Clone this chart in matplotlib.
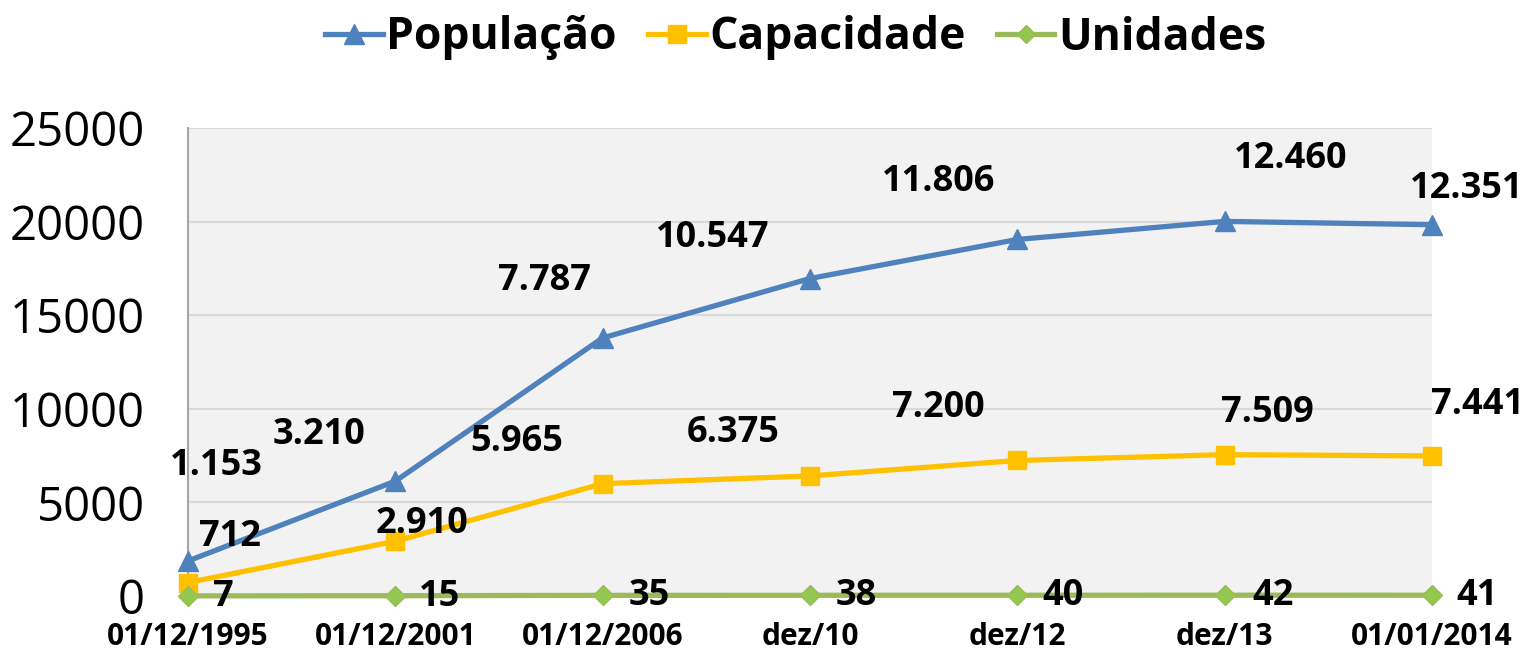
import numpy as np
import matplotlib
matplotlib.use("Agg")
import matplotlib.pyplot as plt

datas = ['01/12/1995', '01/12/2001', '01/12/2006', 'dez/10', 'dez/12', 'dez/13', '01/01/2014']
populacao = [1153, 3210, 7787, 10547, 11806, 12460, 12351]
capacidade = [712, 2910, 5965, 6375, 7200, 7509, 7441]
unidades = [7, 15, 35, 38, 40, 42, 41]

pop_lbl = ['1.153', '3.210', '7.787', '10.547', '11.806', '12.460', '12.351']
cap_lbl = ['712', '2.910', '5.965', '6.375', '7.200', '7.509', '7.441']
uni_lbl = [str(v) for v in unidades]

plt.rcParams['font.family'] = ['Open Sans', 'DejaVu Sans']

BLUE = '#4F81BD'
ORANGE = '#FFC000'
GREEN = '#9BBB59'

fig = plt.figure(figsize=(15.24, 6.5), dpi=100)
ax = fig.add_axes([188/1524, 54/650, (1432-188)/1524, (596-128)/650])
ax.set_facecolor('#F2F2F2')

x = np.arange(len(datas))
# stacked line chart (Excel "stacked line")
s_uni = np.array(unidades, dtype=float)
s_cap = s_uni + np.array(capacidade)
s_pop = s_cap + np.array(populacao)

l_pop, = ax.plot(x, s_pop, color=BLUE, lw=3.8, marker='^', ms=15, mec=BLUE, clip_on=False, zorder=5, label='População')
l_cap, = ax.plot(x, s_cap, color=ORANGE, lw=3.8, marker='s', ms=13, mec=ORANGE, clip_on=False, zorder=5, label='Capacidade')
l_uni, = ax.plot(x, s_uni, color=GREEN, lw=3.8, marker='D', ms=10, mec=GREEN, mfc='#92C84F', clip_on=False, zorder=5, label='Unidades')

pop_off = [(28, -95), (-76, -46), (-58, -57), (-97, -41), (-79, -57), (66, -62), (35, -36)]
cap_off = [(42, -46), (27, -17), (-86, -42), (-77, -43), (-79, -52), (43, -42), (46, -51)]
uni_off = [(35, 1), (44, 1), (47, 1), (46, 1), (46, 1), (48, 1), (45, 1)]

for xs, ys, labels, offs in [(x, s_pop, pop_lbl, pop_off), (x, s_cap, cap_lbl, cap_off), (x, s_uni, uni_lbl, uni_off)]:
    for xi, yi, lb, (dx, dy) in zip(xs, ys, labels, offs):
        ax.annotate(lb, (xi, yi), xytext=(dx, -dy), textcoords='offset pixels',
                    ha='center', va='center', fontsize=26, fontweight='bold', color='black',
                    zorder=10, annotation_clip=False)

ax.set_xlim(0, len(datas) - 1)
ax.set_ylim(0, 25000)
ax.set_yticks(np.arange(0, 25001, 5000))
ax.set_xticks(x)
ax.set_xticklabels(datas, fontsize=21.5, fontweight='bold')
ax.tick_params(axis='y', labelsize=34, length=0, pad=31)
ax.tick_params(axis='x', length=0, pad=19)
ax.grid(axis='y', color='#D9D9D9', lw=1.5)
ax.set_axisbelow(True)
for s in ['top', 'right', 'bottom']:
    ax.spines[s].set_visible(False)
ax.spines['left'].set_color('#A6A6A6')
ax.spines['left'].set_linewidth(1.5)

fig.legend(handles=[l_pop, l_cap, l_uni], loc='center', bbox_to_anchor=(0.522, 1 - 38/650),
           ncol=3, frameon=False, prop={'size': 32, 'weight': 'bold'},
           handlelength=1.3, handletextpad=0.08, columnspacing=0.7, markerscale=0.95)

fig.savefig('out.png', dpi=100)
